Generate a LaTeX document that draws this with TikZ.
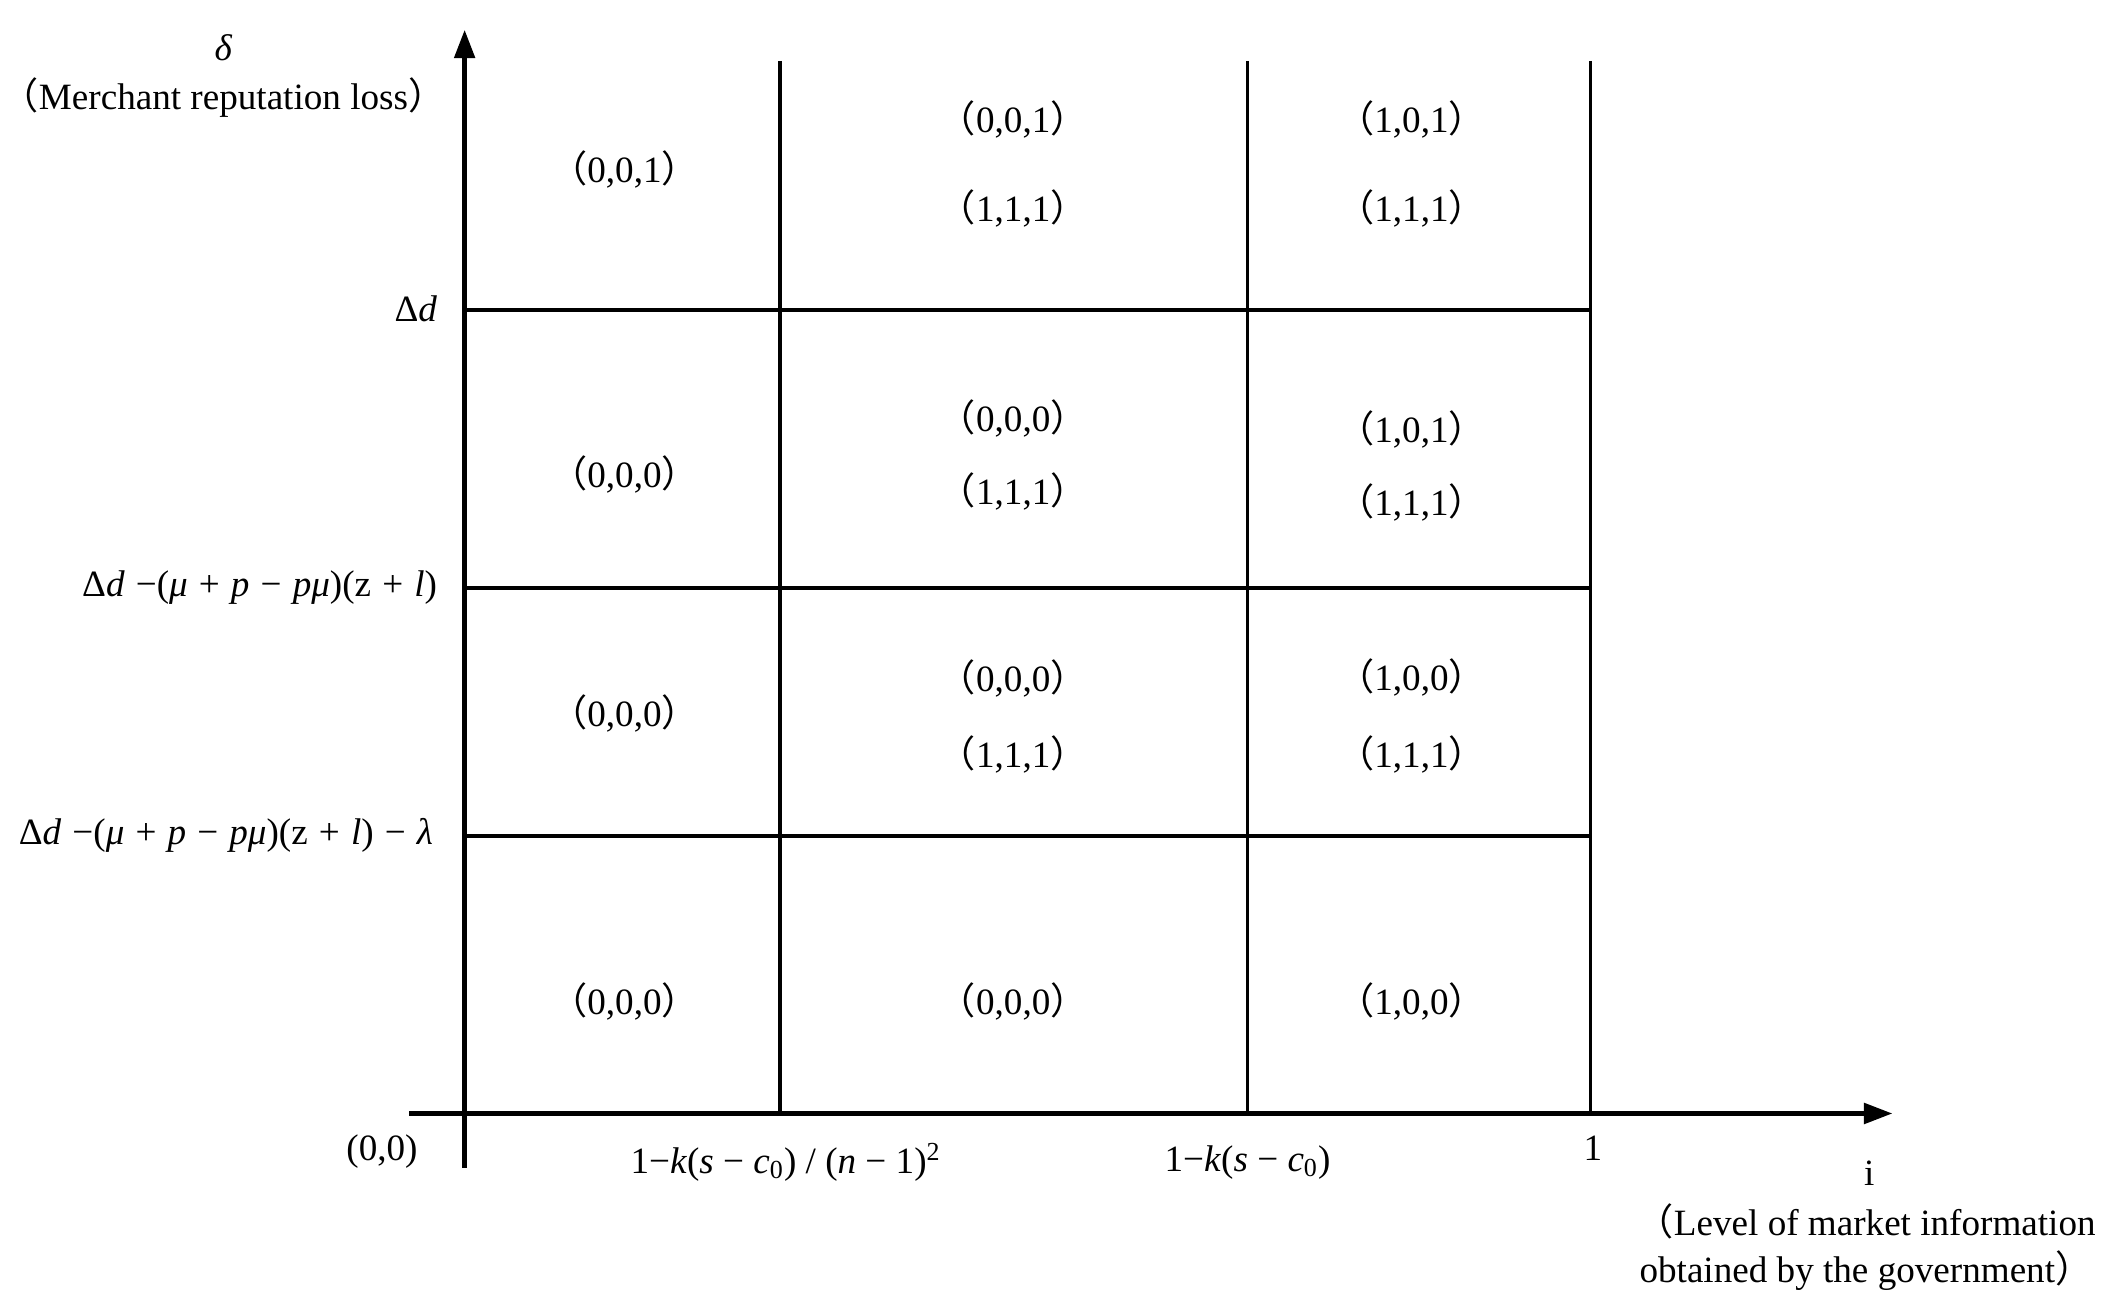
\documentclass[tikz,border=0pt]{standalone}
\usepackage{fontspec}
\setmainfont{Liberation Serif}
\newfontfamily\cjk{Noto Sans CJK SC}
\usetikzlibrary{arrows.meta}
\newcommand\lp{{\cjk （}}
\newcommand\rp{{\cjk ）}}
\newcommand\vv[1]{\textit{#1}}
\newcommand\og{\hspace{0.3em}}
\begin{document}
\begin{tikzpicture}[x=0.02cm,y=-0.02cm,
  every node/.style={font=\fontsize{15.6}{19}\selectfont, inner sep=0pt},
  axisline/.style={line width=1.9pt},
  gridline/.style={line width=1.5pt},
  arr/.style={-{Triangle[length=0.42cm,width=0.3cm]}}]
\useasboundingbox (0,0) rectangle (1568,967);
% axes
\coordinate (ybot) at (343,862);
\coordinate (ytop) at (343,22);
\coordinate (xl) at (302,822);
\coordinate (xr) at (1397,822);
\draw[axisline,arr] (ybot) -- (ytop);
\draw[axisline,arr] (xl) -- (xr);
% grid
\coordinate (v1t) at (576,45);  \coordinate (v1b) at (576,822);
\coordinate (v2t) at (921,45);  \coordinate (v2b) at (921,822);
\coordinate (v3t) at (1174,45); \coordinate (v3b) at (1174,822);
\coordinate (h1l) at (343,229); \coordinate (h1r) at (1174,229);
\coordinate (h2l) at (343,434); \coordinate (h2r) at (1174,434);
\coordinate (h3l) at (343,617); \coordinate (h3r) at (1174,617);
\draw[gridline] (v1t) -- (v1b);
\draw[gridline] (v2t) -- (v2b);
\draw[gridline] (v3t) -- (v3b);
\draw[gridline] (h1l) -- (h1r);
\draw[gridline] (h2l) -- (h2r);
\draw[gridline] (h3l) -- (h3r);
% axis labels
\node (delta) at (165,35) {\vv{δ}};
\node (ylab) at (165,72) {\lp Merchant reputation loss\rp};
\node[anchor=east] (t1) at (323,228) {Δ\vv{d}};
\node[anchor=east] (t2) at (323,434) {Δ\vv{d}\og−(\vv{μ}\og+\og\vv{p}\og−\og\vv{pμ})(z\og+\og\vv{l})};
\node[anchor=east] (t3) at (320,617) {Δ\vv{d}\og−(\vv{μ}\og+\og\vv{p}\og−\og\vv{pμ})(z\og+\og\vv{l})\og−\og\vv{λ}};
\node (orig) at (282,850) {(0,0)};
\node (a1) at (580,858) {1−\vv{k}(\vv{s}\hspace{0.25em}−\hspace{0.25em}\vv{c}\textsubscript{0})\hspace{0.25em}/\hspace{0.25em}(\vv{n}\hspace{0.25em}−\hspace{0.25em}1)\textsuperscript{2}};
\node (a2) at (921,858) {1−\vv{k}(\vv{s}\hspace{0.25em}−\hspace{0.25em}\vv{c}\textsubscript{0})};
\node (a3) at (1176,848) {1};
\node (ilab) at (1380,866) {i};
\node[anchor=west] (xlab1) at (1208,902) {\lp Level of market information};
\node[anchor=west] (xlab2) at (1210,938) {obtained by the government\rp};
% cells row 1
\node (c11) at (461,125) {\lp0,0,1\rp};
\node (c12a) at (748,88) {\lp0,0,1\rp};
\node (c12b) at (748,154) {\lp1,1,1\rp};
\node (c13a) at (1042,88) {\lp1,0,1\rp};
\node (c13b) at (1042,154) {\lp1,1,1\rp};
% row 2
\node (c21) at (461,350) {\lp0,0,0\rp};
\node (c22a) at (748,309) {\lp0,0,0\rp};
\node (c22b) at (748,363) {\lp1,1,1\rp};
\node (c23a) at (1042,317) {\lp1,0,1\rp};
\node (c23b) at (1042,371) {\lp1,1,1\rp};
% row 3
\node (c31) at (461,527) {\lp0,0,0\rp};
\node (c32a) at (748,501) {\lp0,0,0\rp};
\node (c32b) at (748,557) {\lp1,1,1\rp};
\node (c33a) at (1042,500) {\lp1,0,0\rp};
\node (c33b) at (1042,557) {\lp1,1,1\rp};
% row 4
\node (c41) at (461,739) {\lp0,0,0\rp};
\node (c42) at (748,739) {\lp0,0,0\rp};
\node (c43) at (1042,739) {\lp1,0,0\rp};
\end{tikzpicture}
\end{document}
